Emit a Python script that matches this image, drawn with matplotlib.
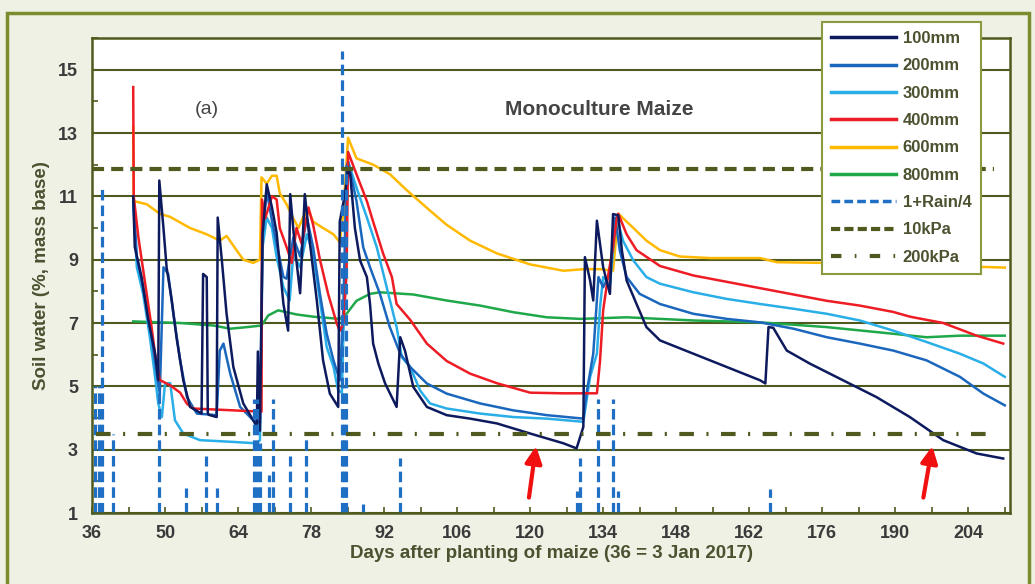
import numpy as np
import matplotlib.pyplot as plt
from matplotlib.lines import Line2D
from matplotlib.patches import Rectangle

plt.rcParams['font.family'] = ['Liberation Sans', 'DejaVu Sans']

# ---- данные ----
d100 = [43.9, 44.2, 45.5, 46.8, 48.1, 48.7, 48.9, 49.7, 50.3, 51.3, 52.2, 53.5, 54.8, 57.0, 57.3, 58.0, 58.2,
        58.4, 59.9, 60.1, 60.9, 61.8, 63.1, 65.0, 66.9, 67.6, 67.8, 68.2, 68.7, 69.5, 70.5, 71.4, 72.7, 73.6,
        74.0, 74.9, 75.9, 76.8, 77.8, 79.1, 80.3, 81.6, 83.2, 83.5, 84.5, 85.1, 85.5, 86.4, 87.4, 88.7, 89.3,
        89.9, 90.9, 92.2, 94.4, 95.1, 96.0, 97.6, 100.2, 104.0, 108.5, 113.6, 120.0, 126.4, 128.9, 130.2,
        130.5, 131.5, 132.1, 132.8, 134.0, 135.3, 135.9, 136.9, 137.6, 138.5, 140.4, 142.3, 144.9, 151.3,
        157.7, 164.1, 165.1, 165.7, 166.6, 169.2, 173.6, 180.0, 186.4, 192.8, 199.2, 205.6, 210.7]
v100 = [11.0, 9.4, 8.45, 7.08, 6.03, 5.19, 11.5, 10.0, 8.76, 7.71, 6.55, 5.19, 4.35, 4.14, 8.55, 8.45, 4.14,
        4.1, 4.03, 10.33, 8.97, 7.29, 5.61, 4.46, 3.93, 3.72, 6.1, 3.6, 9.8, 11.38, 10.65, 9.85, 7.6, 6.76,
        11.07, 9.39, 7.94, 11.07, 9.5, 7.71, 5.82, 4.77, 4.35, 10.2, 11.07, 11.9, 11.7, 10.0, 8.97, 8.45, 7.6,
        6.35, 5.72, 5.09, 4.35, 6.55, 6.13, 4.98, 4.35, 4.09, 3.98, 3.83, 3.51, 3.2, 3.04, 3.72,
        9.08, 8.34, 7.71, 10.23, 8.76, 7.92, 10.44, 10.4, 9.28, 8.34, 7.6, 6.87, 6.45, 6.03,
        5.61, 5.19, 5.09, 6.87, 6.85, 6.13, 5.72, 5.19, 4.66, 4.03, 3.3, 2.88, 2.72]

d200 = [43.9, 44.6, 45.8, 47.1, 48.4, 49.0, 49.7, 50.6, 51.6, 52.9, 54.2, 56.1, 59.9, 60.5, 61.2, 62.5, 64.4,
        66.9, 68.2, 68.7, 69.5, 70.5, 71.4, 72.7, 73.3, 74.6, 75.9, 77.2, 78.4, 79.7, 81.0, 82.3, 83.5, 84.2,
        84.8, 85.1, 86.7, 88.0, 89.3, 91.2, 93.1, 95.1, 97.0, 100.2, 104.0, 110.4, 116.8, 123.2, 130.2, 130.8,
        132.1, 133.1, 134.0, 135.3, 136.3, 137.2, 138.5, 141.0, 144.9, 151.3, 157.7, 164.1, 170.5, 176.9,
        183.2, 189.6, 196.0, 202.4, 206.9, 211.0]
v200 = [11.0, 9.08, 8.13, 6.97, 5.4, 4.77, 8.76, 8.55, 7.29, 5.82, 4.66, 4.14, 4.09, 6.13, 6.35, 5.4, 4.35,
        3.93, 3.85, 9.8, 11.17, 10.23, 9.5, 8.45, 8.4, 9.7, 9.1, 10.33, 9.39, 7.92, 6.66, 5.82, 5.19, 7.5,
        11.91, 12.1, 10.86, 9.39, 8.76, 7.92, 6.87, 6.03, 5.61, 5.09, 4.77, 4.46, 4.24, 4.09, 3.98, 4.77,
        6.03, 8.45, 8.13, 8.55, 10.33, 9.28, 8.45, 7.92, 7.6, 7.29, 7.13, 7.02, 6.82, 6.55,
        6.35, 6.13, 5.82, 5.3, 4.77, 4.4]

d300 = [43.9, 44.6, 45.8, 47.1, 48.1, 48.7, 49.4, 50.0, 51.0, 51.9, 53.5, 56.7, 62.5, 67.6, 68.2, 68.7, 69.5,
        70.5, 71.4, 72.7, 73.9, 74.6, 75.9, 77.2, 78.4, 79.7, 81.0, 82.3, 83.2, 83.9, 84.5, 85.1, 86.7, 88.7,
        90.6, 92.5, 94.4, 95.4, 97.0, 98.9, 100.8, 104.0, 110.4, 116.8, 123.2, 130.2, 131.5, 132.8, 133.4,
        134.0, 135.3, 136.3, 136.6, 137.8, 139.8, 142.3, 144.9, 151.3, 157.7, 164.1, 170.5, 176.9, 183.2,
        189.6, 196.0, 202.4, 206.9, 211.0]
v300 = [10.8, 8.76, 7.92, 6.55, 5.3, 4.46, 4.03, 5.09, 5.1, 3.93, 3.51, 3.3, 3.25, 3.2, 3.3, 9.39, 10.33,
        10.0, 9.08, 8.13, 7.71, 9.18, 8.76, 9.8, 9.18, 7.71, 6.24, 5.61, 4.87, 4.8, 8.5, 12.1, 11.28, 10.33,
        9.39, 8.13, 6.87, 5.92, 5.61, 4.87, 4.46, 4.3, 4.14, 4.03, 3.98, 3.88, 5.3, 6.03, 7.5,
        8.45, 8.2, 10.0, 10.33, 9.6, 8.97, 8.45, 8.24, 7.97, 7.76, 7.6, 7.45, 7.29, 7.08,
        6.76, 6.4, 6.03, 5.72, 5.3]

d400 = [43.9, 44.0, 44.9, 46.5, 47.4, 48.1, 49.0, 51.0, 52.9, 54.2, 55.4, 68.5, 68.6, 69.2, 70.5, 71.4, 72.0,
        73.3, 74.3, 75.2, 76.2, 77.5, 78.4, 79.7, 81.3, 82.9, 83.5, 84.2, 84.8, 85.1, 86.7, 88.7, 89.9, 91.8,
        93.5, 94.4, 97.0, 100.2, 104.0, 108.5, 113.6, 120.0, 126.3, 132.8, 133.4, 134.0, 135.0, 135.9, 136.6,
        136.9, 138.5, 140.4, 144.9, 151.3, 157.7, 164.1, 170.5, 176.9, 183.2, 189.6, 192.8, 199.2, 205.6, 210.7]
v400 = [14.45, 11.0, 9.7, 7.9, 6.9, 6.0, 5.2, 5.03, 4.8, 4.45, 4.3, 4.2, 10.9, 10.3, 11.0, 10.9, 10.0,
        9.4, 8.9, 10.0, 9.5, 10.65, 10.1, 9.0, 7.9, 7.0, 6.75, 7.0, 8.55, 12.4, 11.7, 10.85, 10.2, 9.2,
        8.45, 7.6, 7.1, 6.35, 5.8, 5.4, 5.1, 4.8, 4.78, 4.78, 5.8, 7.4, 8.55, 9.4, 10.3,
        10.45, 9.8, 9.3, 8.8, 8.5, 8.3, 8.1, 7.9, 7.7, 7.55, 7.35, 7.2, 7.0, 6.6, 6.35]

d600 = [43.9, 44.0, 46.5, 49.0, 51.0, 54.8, 58.0, 60.5, 61.8, 63.7, 65.0, 66.9, 68.2, 68.5, 69.5, 70.5, 71.4,
        72.0, 73.3, 74.6, 75.6, 76.5, 77.5, 78.4, 80.3, 82.3, 83.5, 84.2, 84.8, 85.1, 86.7, 89.9, 93.1, 96.3,
        100.8, 104.0, 108.5, 113.6, 120.0, 126.4, 130.2, 133.4, 135.9, 136.9, 139.8, 142.3, 144.9, 148.7,
        154.5, 164.1, 167.3, 175.6, 190.9, 211.0]
v600 = [13.2, 10.85, 10.75, 10.45, 10.35, 10.0, 9.8, 9.6, 9.75, 9.3, 9.0, 8.9, 9.0, 11.6, 11.4, 11.65, 11.65,
        11.1, 10.75, 10.3, 10.0, 10.35, 10.55, 10.2, 10.0, 9.8, 9.55, 10.5, 12.1, 12.85, 12.2, 12.0, 11.7, 11.2,
        10.55, 10.1, 9.6, 9.2, 8.85, 8.65, 8.7, 8.7, 8.65, 10.45, 10.0, 9.6, 9.3, 9.1,
        9.05, 9.05, 8.92, 8.9, 8.85, 8.75]

d800 = [43.9, 52.9, 59.3, 62.5, 65.7, 68.5, 69.8, 71.7, 75.2, 78.4, 83.5, 84.8, 86.7, 89.3, 91.2, 97.6, 104.0,
        110.4, 116.8, 123.2, 129.6, 138.5, 151.3, 164.1, 176.9, 189.6, 196.0, 202.4, 211.0]
v800 = [7.05, 7.0, 6.92, 6.82, 6.87, 6.92, 7.24, 7.4, 7.27, 7.2, 7.13, 7.29, 7.7, 7.92, 7.97, 7.9, 7.71,
        7.55, 7.34, 7.18, 7.13, 7.18, 7.08, 7.02, 6.87, 6.66, 6.55, 6.6, 6.6]

rain_days = [36.6, 37.3, 38.0, 40.0, 48.8, 54.0, 57.9, 60.0, 67.0, 67.6, 68.2, 69.9, 70.7, 73.9, 77.0,
             83.9, 84.3, 84.7, 88.0, 95.0, 129.0, 129.5, 133.0, 135.9, 136.8, 166.0]
rain_mm = [16, 16, 41, 10, 16, 3.2, 7.2, 3.2, 14.4, 14.4, 8.8, 4.8, 14.4, 7.2, 10,
           58.4, 16, 44, 1.2, 7, 2.8, 7, 14.4, 14.4, 2.8, 3]

kpa10 = 11.85
kpa200 = 3.5
arrows = [((119.7, 1.4), (121.2, 3.2)), ((195.3, 1.4), (197.2, 3.2))]

# ---- оформление ----
olive = '#4f5a1e'
txt = '#3a3a3a'
c100, c200, c300 = '#0d1a5e', '#1a67bd', '#2aaee8'
c400, c600, c800 = '#ee1c24', '#ffb900', '#1fa84a'
crain = '#1f6fc4'

fig = plt.figure(figsize=(10.35, 5.84), dpi=100, facecolor='#eef1e4')
fig.patches.append(Rectangle((7/1035, -0.05), 1022/1035, 1.05 - 13/584, transform=fig.transFigure,
                             fill=False, edgecolor='#7a8c2e', lw=2.5))
ax = fig.add_axes([92/1035, 1 - 513/584, 918/1035, 475/584])
ax.set_facecolor('white')

ax.plot(d800, v800, color=c800, lw=1.8)
ax.plot(d600, v600, color=c600, lw=1.8)
ax.plot(d300, v300, color=c300, lw=1.8)
ax.plot(d200, v200, color=c200, lw=1.8)
ax.plot(d400, v400, color=c400, lw=1.8)
ax.plot(d100, v100, color=c100, lw=1.8)

rain_top = 1 + np.array(rain_mm) / 4
ax.vlines(rain_days, 1, rain_top, colors=crain, lw=2.3, linestyles=[(0, (3.3, 1.6))])

ax.plot([36, 209], [kpa10, kpa10], color=olive, lw=3, ls=(0, (2.9, 1.7)))
ax.plot([36.8, 208], [kpa200, kpa200], color=olive, lw=3, ls=(0, (3.5, 3, 0.5, 3)))

for tail, head in arrows:
    ax.annotate('', xy=head, xytext=tail,
                arrowprops=dict(arrowstyle='-|>', color='#f01010', lw=3, mutation_scale=25))

ax.text(58, 13.75, '(a)', fontsize=14, color='#444444', ha='center', va='center')
ax.text(133.3, 13.75, 'Monoculture Maize', fontsize=15, fontweight='bold', color='#444444',
        ha='center', va='center')

ax.set_xlim(36, 212)
ax.set_ylim(1, 16)
ax.set_xticks(np.arange(36, 212, 14))
ax.set_xticks(np.arange(36, 213, 7), minor=True)
ax.set_yticks(np.arange(1, 16, 2))
ax.set_yticks(np.arange(2, 17, 2), minor=True)
ax.grid(axis='y', which='major', color=olive, lw=1.5)
ax.tick_params(which='both', direction='in', length=4, color=olive, width=1.2)
ax.tick_params(axis='x', which='major', pad=9)
ax.tick_params(axis='y', which='major', pad=10)
for lab in ax.get_xticklabels() + ax.get_yticklabels():
    lab.set_fontsize(13)
    lab.set_fontweight('bold')
    lab.set_color(txt)
for s in ax.spines.values():
    s.set_color(olive)
    s.set_linewidth(1.8)

ax.set_xlabel('Days after planting of maize (36 = 3 Jan 2017)', fontsize=13.5, fontweight='bold',
              color='#4a5230', labelpad=2)
ax.set_ylabel('Soil water (%, mass base)', fontsize=13.5, fontweight='bold', color='#4a5230', labelpad=6)

handles = [Line2D([], [], color=c100, lw=2.5), Line2D([], [], color=c200, lw=2.5),
           Line2D([], [], color=c300, lw=2.5), Line2D([], [], color=c400, lw=2.5),
           Line2D([], [], color=c600, lw=2.5), Line2D([], [], color=c800, lw=2.5),
           Line2D([], [], color=crain, lw=2.5, ls=(0, (2.5, 1.2))),
           Line2D([], [], color=olive, lw=3, ls=(0, (2.2, 1.0))),
           Line2D([], [], color=olive, lw=3, ls=(0, (2.5, 3.2, 0.4, 3.2)))]
labels = ['100mm', '200mm', '300mm', '400mm', '600mm', '800mm', '1+Rain/4', '10kPa', '200kPa']
leg = ax.legend(handles, labels, loc='upper left', bbox_to_anchor=(822/1035, 1 - 22/584),
                bbox_transform=fig.transFigure, borderaxespad=0, fancybox=False, framealpha=1,
                edgecolor='#8a9a40', prop={'weight': 'bold', 'size': 12}, handlelength=3.9,
                handletextpad=0.4, labelspacing=0.74, borderpad=0.55)
leg.get_frame().set_linewidth(1.5)
for t in leg.get_texts():
    t.set_color('#4a5230')
leg.set_zorder(10)

fig.savefig('out.png', dpi=100, facecolor=fig.get_facecolor())
